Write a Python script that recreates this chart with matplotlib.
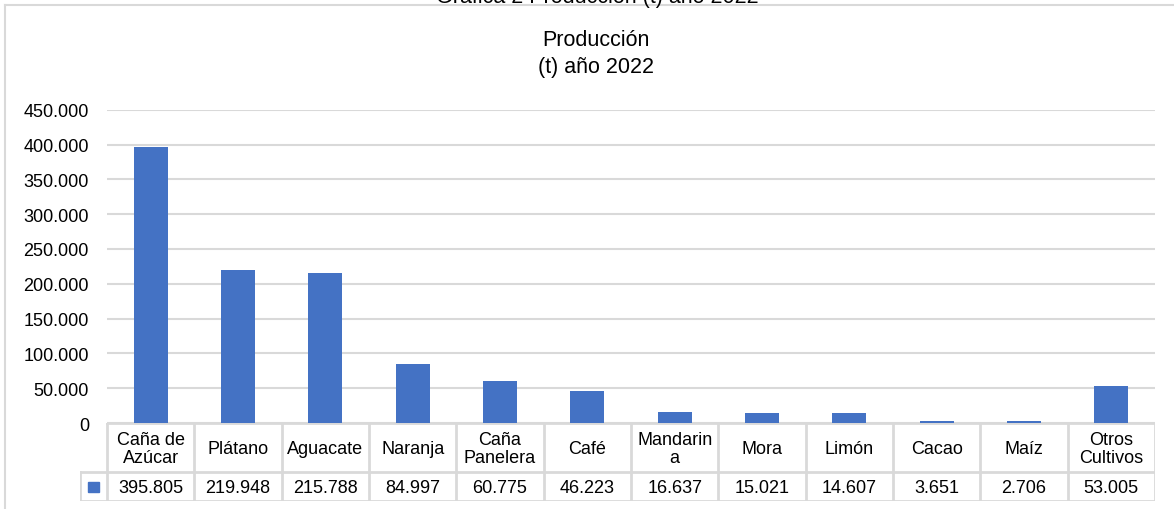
import matplotlib.pyplot as plt
from matplotlib.lines import Line2D
from matplotlib.patches import Rectangle

plt.rcParams['font.family'] = ['Liberation Sans', 'DejaVu Sans']

# data
categories = ['Caña de\nAzúcar', 'Plátano', 'Aguacate', 'Naranja', 'Caña\nPanelera', 'Café',
              'Mandarin\na', 'Mora', 'Limón', 'Cacao', 'Maíz', 'Otros\nCultivos']
produccion = [395805, 219948, 215788, 84997, 60775, 46223, 16637, 15021, 14607, 3651, 2706, 53005]
y_ticks = [0, 50000, 100000, 150000, 200000, 250000, 300000, 350000, 400000, 450000]

W, H = 1174, 510
bar_color = '#4472c4'
grid_color = '#d9d9d9'


def miles(v):
    return f'{v:,}'.replace(',', '.')


fig = plt.figure(figsize=(W / 100, H / 100), dpi=100)

# plot area in pixels
left, right, top, bottom = 107, 1155, 110.7, 424.1
ax = fig.add_axes([left / W, (H - bottom) / H, (right - left) / W, (bottom - top) / H])
x = list(range(len(categories)))
ax.bar(x, produccion, width=0.39, color=bar_color, zorder=3)
ax.set_xlim(-0.5, len(categories) - 0.5)
ax.set_ylim(0, 450000)
ax.set_yticks(y_ticks)
ax.set_yticklabels([miles(v) for v in y_ticks], fontsize=13)
ax.tick_params(axis='y', length=0, pad=13)
ax.set_xticks([])
ax.grid(axis='y', color=grid_color, linewidth=1.5, zorder=0)
for s in ax.spines.values():
    s.set_visible(False)

# data table below the plot
tab_left, tab_top, tab_bottom, row_sep = 80, 424.1, 502, 473
key_w = (left - tab_left) / ((right - left) / len(categories))
axt = fig.add_axes([tab_left / W, (H - tab_bottom) / H, (right - tab_left) / W, (tab_bottom - tab_top) / H])
axt.set_xlim(-0.5 - key_w, len(categories) - 0.5)
axt.set_ylim(tab_bottom, tab_top)
axt.axis('off')
lc = dict(color=grid_color, linewidth=2, solid_capstyle='projecting')
n = len(categories)
axt.plot([-0.5, n - 0.5], [tab_top, tab_top], **lc)
axt.plot([-0.5 - key_w, n - 0.5], [row_sep, row_sep], **lc)
axt.plot([-0.5 - key_w, n - 0.5], [tab_bottom, tab_bottom], **lc)
axt.plot([-0.5 - key_w, -0.5 - key_w], [row_sep, tab_bottom], **lc)
for i in range(n + 1):
    axt.plot([i - 0.5, i - 0.5], [tab_top, tab_bottom], **lc)
for i, (c, v) in enumerate(zip(categories, produccion)):
    axt.text(i, (tab_top + row_sep) / 2 + 1, c, ha='center', va='center', fontsize=13,
             linespacing=1.05)
    axt.text(i, (row_sep + tab_bottom) / 2 + 1, miles(v), ha='center', va='center', fontsize=13)
kx = -0.5 - key_w / 2
axt.add_patch(Rectangle((kx - 5 / 87.33, 483), 10 / 87.33, 10, color=bar_color, clip_on=False))

# titles
fig.text(596 / W, (H - 41) / H, 'Producción', ha='center', va='center', fontsize=15.5)
fig.text(596 / W, (H - 67) / H, '(t) año 2022', ha='center', va='center', fontsize=15.5)
fig.text(597 / W, (H - 3) / H, 'Gráfica 2 Producción (t) año 2022', ha='center', va='baseline',
         fontsize=15.5)

# chart frame
fig.add_artist(Line2D([5 / W, 5 / W], [0, (H - 6) / H], color=grid_color, linewidth=1.5))
fig.add_artist(Line2D([5 / W, 1], [(H - 6) / H, (H - 6) / H], color=grid_color, linewidth=1.5))

fig.savefig('out.png', dpi=100)
